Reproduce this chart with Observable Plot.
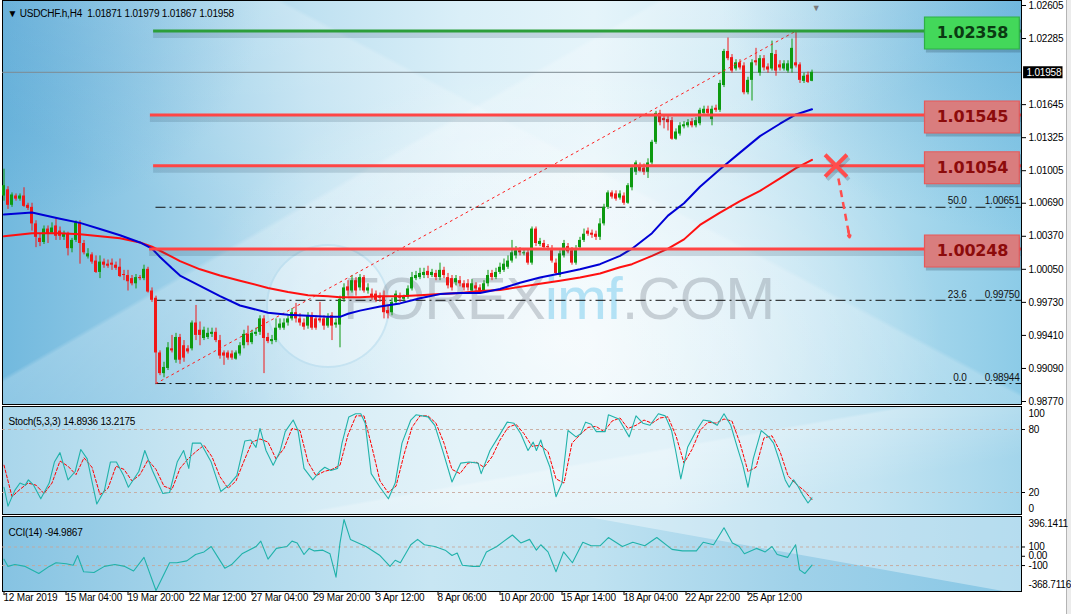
<!DOCTYPE html>
<html>
<head>
<meta charset="utf-8">
<script src="https://cdn.jsdelivr.net/npm/d3@7"></script>
<script src="https://cdn.jsdelivr.net/npm/@observablehq/plot@0.6"></script>
<style>
html, body { margin:0; padding:0; background:#ffffff; }
#chart { position:relative; width:1071px; height:614px; overflow:hidden; background:#ffffff; font-family:"Liberation Sans", Arial, sans-serif; }
.pane { position:absolute; left:2px; width:1018px; border:1px solid #000; }
#paneMain { top:0px; height:403px;
  background:
    linear-gradient(150deg, rgba(255,255,255,0) 38%, rgba(255,255,255,0.22) 38.5%, rgba(255,255,255,0) 62%),
    linear-gradient(28deg, rgba(255,255,255,0) 30%, rgba(255,255,255,0.20) 58%, rgba(255,255,255,0) 58.5%),
    radial-gradient(ellipse 300px 230px at 1018px 0px, rgba(60,150,205,0.40), rgba(60,150,205,0) 100%),
    radial-gradient(ellipse 260px 220px at 0px 0px, rgba(50,140,200,0.35), rgba(50,140,200,0) 100%),
    radial-gradient(ellipse 380px 280px at 560px 340px, rgba(255,255,255,0.65), rgba(255,255,255,0) 100%),
    linear-gradient(90deg, #72b9de 0%, #96cce7 15%, #bfe1f1 30%, #daeff8 45%, #e5f4fa 58%, #d0eaf5 72%, #aad9ed 88%, #8ccbe7 100%);
}
#paneStoch { top:406px; height:107px;
  background:
    linear-gradient(170deg, rgba(255,255,255,0) 55%, rgba(255,255,255,0.25) 56%, rgba(255,255,255,0) 80%),
    linear-gradient(90deg, #a9d6eb 0%, #cbe7f3 20%, #e4f3f9 45%, #e2f2f9 65%, #c3e4f2 85%, #a3d5eb 100%);
}
#paneCci { top:516px; height:74px;
  background: linear-gradient(90deg, #86c3e2 0%, #a9d6eb 20%, #c8e6f3 42%, #bfe2f1 58%, #9fd1e9 78%, #88c7e5 100%);
}
#cciLight { position:absolute; left:3px; top:517px; width:1018px; height:74px;
  background: rgba(255,255,255,0.38);
  clip-path: polygon(585px 0px, 1018px 0px, 1018px 74px, 1000px 74px); }
#logo { position:absolute; left:266px; top:244px; width:120px; height:120px; border-radius:50%;
  background: rgba(255,255,255,0.28); border:2px solid rgba(110,185,220,0.25); }
#wm { position:absolute; left:343px; top:269px; font-family:"Liberation Sans", Arial, sans-serif;
  font-size:60px; line-height:60px; letter-spacing:-1px; white-space:nowrap; }
#wm .g { color: rgba(120,130,140,0.34); }
#wm .b { color: rgba(125,205,238,0.55); }
#scrollR { position:absolute; left:1066px; top:0px; width:5px; height:614px; background:#ececec; border-left:1px solid #b4b4b4; }
#chart svg { position:absolute; left:0px; top:0px; }
</style>
</head>
<body>
<div id="chart">
  <div class="pane" id="paneMain"></div>
  <div class="pane" id="paneStoch"></div>
  <div class="pane" id="paneCci"></div>
  <div id="cciLight"></div>
  <div id="logo"></div>
  <div id="wm"><span class="g">FOREX</span><span class="b">imf</span><span class="g">.COM</span></div>
  <div id="scrollR"></div>
</div>
<script>
// ---------------- DATA ----------------
const symbolTitle = "▼ USDCHF.h,H4  1.01871 1.01979 1.01867 1.01958";
const stochTitle = "Stoch(5,3,3) 14.8936 13.2175";
const cciTitle = "CCI(14) -94.9867";

const open = [
1.0076,1.0082,1.0067,1.0076,1.0073,1.0076,1.0067,1.0065,1.0049,1.0035,
1.0031,1.0044,1.0040,1.0047,1.0042,1.0036,1.0039,1.0025,1.0033,1.0050,
1.0030,1.0017,1.0019,1.0013,1.0002,1.0012,1.0010,1.0011,1.0009,1.0007,
1.0000,0.9999,0.9996,0.9991,0.9997,0.9996,1.0005,0.9984,0.9977,0.9924,
0.9904,0.9909,0.9928,0.9917,0.9939,0.9931,0.9928,0.9928,0.9953,0.9946,
0.9938,0.9939,0.9942,0.9944,0.9936,0.9924,0.9924,0.9923,0.9918,0.9923,
0.9931,0.9942,0.9934,0.9942,0.9944,0.9957,0.9939,0.9935,0.9936,0.9948,
0.9948,0.9953,0.9957,0.9963,0.9957,0.9953,0.9950,0.9960,0.9957,0.9957,
0.9957,0.9950,0.9960,0.9951,0.9951,0.9976,0.9988,0.9984,0.9994,0.9987,
0.9997,0.9984,0.9981,0.9981,0.9979,0.9979,0.9965,0.9963,0.9973,0.9979,
0.9976,0.9978,0.9986,0.9996,0.9997,0.9999,1.0003,0.9999,1.0001,0.9997,
1.0004,0.9997,0.9996,0.9992,0.9994,0.9991,0.9991,0.9984,0.9989,0.9987,
0.9984,0.9991,1.0001,0.9997,1.0002,1.0004,1.0007,1.0013,1.0018,1.0023,
1.0021,1.0021,1.0011,1.0044,1.0029,1.0030,1.0027,1.0025,1.0011,0.9999,
1.0018,1.0027,1.0023,1.0011,1.0026,1.0033,1.0042,1.0040,1.0039,1.0036,
1.0049,1.0065,1.0079,1.0078,1.0074,1.0076,1.0069,1.0084,1.0099,1.0104,
1.0103,1.0099,1.0108,1.0128,1.0156,1.0151,1.0150,1.0149,1.0131,1.0136,
1.0143,1.0144,1.0148,1.0144,1.0146,1.0156,1.0160,1.0150,1.0161,1.0159,
1.0183,1.0216,1.0210,1.0199,1.0205,1.0202,1.0176,1.0188,1.0207,1.0195,
1.0209,1.0201,1.0199,1.0213,1.0203,1.0199,1.0197,1.0199,1.0205,1.0203,
1.0187,1.0193,1.01871];
const high = [
1.0102,1.0085,1.0079,1.0078,1.0078,1.0084,1.0069,1.0069,1.0052,1.0039,
1.0047,1.0047,1.0050,1.0054,1.0046,1.0042,1.0041,1.0035,1.0052,1.0052,
1.0033,1.0025,1.0021,1.0018,1.0018,1.0015,1.0014,1.0015,1.0012,1.0015,
1.0004,1.0004,0.9999,1.0000,0.9999,1.0009,1.0007,0.9987,0.9979,0.9926,
0.9915,0.9934,0.9941,0.9943,0.9942,0.9936,0.9931,0.9955,0.9970,0.9954,
0.9949,0.9948,0.9948,0.9948,0.9941,0.9926,0.9926,0.9926,0.9926,0.9934,
0.9946,0.9950,0.9946,0.9948,0.9960,0.9960,0.9943,0.9941,0.9957,0.9957,
0.9957,0.9960,0.9967,0.9972,0.9962,0.9957,0.9963,0.9963,0.9960,0.9973,
0.9960,0.9962,0.9963,0.9957,0.9979,0.9991,0.9994,0.9999,0.9997,1.0000,
0.9999,0.9991,0.9986,0.9984,0.9982,0.9984,0.9970,0.9977,0.9984,0.9982,
0.9980,0.9989,1.0002,1.0003,1.0006,1.0006,1.0008,1.0005,1.0004,1.0011,
1.0007,1.0001,0.9999,0.9999,0.9998,0.9994,0.9995,0.9995,0.9992,0.9990,
0.9994,1.0004,1.0004,1.0006,1.0011,1.0015,1.0018,1.0033,1.0027,1.0026,
1.0024,1.0025,1.0046,1.0046,1.0035,1.0033,1.0029,1.0028,1.0015,1.0023,
1.0033,1.0030,1.0026,1.0028,1.0036,1.0044,1.0045,1.0043,1.0042,1.0054,
1.0068,1.0081,1.0081,1.0081,1.0081,1.0079,1.0088,1.0105,1.0110,1.0108,
1.0107,1.0112,1.0130,1.0158,1.0159,1.0154,1.0153,1.0152,1.0141,1.0147,
1.0148,1.0150,1.0151,1.0152,1.0161,1.0163,1.0163,1.0163,1.0164,1.0188,
1.0218,1.0229,1.0213,1.0208,1.0208,1.0205,1.0191,1.0208,1.0219,1.0212,
1.0212,1.0204,1.0226,1.0217,1.0207,1.0207,1.0207,1.0228,1.02358,1.0205,
1.0195,1.0196,1.01979];
const low = [
1.0071,1.0063,1.0065,1.0071,1.0071,1.0065,1.0062,1.0042,1.0026,1.0027,
1.0029,1.0030,1.0039,1.0033,1.0033,1.0033,1.0018,1.0021,1.0031,1.0010,
1.0019,1.0015,1.0010,1.0001,0.9996,1.0006,1.0006,1.0004,1.0004,0.9997,
0.9994,0.9984,0.9989,0.9986,0.9994,0.9994,0.9982,0.9973,0.98944,0.9902,
0.9900,0.9907,0.9924,0.9914,0.9913,0.9915,0.9923,0.9926,0.9936,0.9931,
0.9936,0.9937,0.9939,0.9934,0.9918,0.9912,0.9917,0.9917,0.9917,0.9921,
0.9928,0.9931,0.9932,0.9940,0.9941,0.9904,0.9933,0.9932,0.9934,0.9946,
0.9946,0.9950,0.9955,0.9953,0.9950,0.9946,0.9947,0.9946,0.9946,0.9953,
0.9946,0.9948,0.9936,0.9948,0.9929,0.9973,0.9979,0.9982,0.9979,0.9984,
0.9982,0.9981,0.9975,0.9973,0.9973,0.9957,0.9957,0.9960,0.9970,0.9973,
0.9973,0.9976,0.9984,0.9994,0.9995,0.9996,0.9996,0.9997,0.9994,0.9994,
0.9996,0.9986,0.9984,0.9989,0.9988,0.9984,0.9984,0.9981,0.9982,0.9981,
0.9982,0.9988,0.9994,0.9995,1.0000,1.0002,1.0005,1.0011,1.0015,1.0018,
1.0018,1.0009,1.0009,1.0027,1.0027,1.0024,1.0023,1.0011,0.9999,0.9997,
1.0016,1.0020,1.0009,1.0009,1.0024,1.0031,1.0037,1.0035,1.0033,1.0033,
1.0047,1.0063,1.0073,1.0071,1.0072,1.0067,1.0068,1.0081,1.0096,1.0099,
1.0096,1.0093,1.0106,1.0126,1.0144,1.0141,1.0139,1.0130,1.0130,1.0134,
1.0141,1.0142,1.0142,1.0142,1.0144,1.0154,1.0154,1.0144,1.0157,1.0157,
1.0181,1.0207,1.0195,1.0197,1.0198,1.0174,1.0174,1.0168,1.0202,1.0192,
1.0197,1.0195,1.0197,1.0192,1.0197,1.0197,1.0195,1.0195,1.0200,1.0185,
1.0185,1.0185,1.01867];
const close = [
1.0086,1.0067,1.0077,1.0073,1.0076,1.0066,1.0064,1.0049,1.0036,1.0031,
1.0044,1.0039,1.0045,1.0037,1.0037,1.0039,1.0025,1.0033,1.0050,1.0030,
1.0021,1.0020,1.0012,1.0002,1.0012,1.0009,1.0008,1.0009,1.0006,0.9998,
0.9999,0.9993,0.9991,0.9997,0.9996,1.0005,0.9983,0.9975,0.9924,0.9904,
0.9910,0.9929,0.9926,0.9939,0.9917,0.9919,0.9925,0.9953,0.9941,0.9941,
0.9946,0.9943,0.9944,0.9936,0.9921,0.9921,0.9919,0.9919,0.9924,0.9931,
0.9942,0.9934,0.9943,0.9944,0.9957,0.9938,0.9935,0.9937,0.9948,0.9952,
0.9953,0.9957,0.9963,0.9957,0.9953,0.9949,0.9960,0.9948,0.9948,0.9955,
0.9950,0.9958,0.9950,0.9953,0.9976,0.9987,0.9984,0.9994,0.9984,0.9997,
0.9984,0.9987,0.9978,0.9975,0.9977,0.9963,0.9962,0.9973,0.9981,0.9977,
0.9978,0.9986,0.9997,0.9999,1.0001,1.0002,0.9999,1.0002,0.9997,1.0004,
0.9999,0.9989,0.9987,0.9996,0.9991,0.9987,0.9987,0.9991,0.9986,0.9984,
0.9991,0.9999,0.9997,1.0002,1.0007,1.0010,1.0013,1.0021,1.0023,1.0021,
1.0021,1.0011,1.0044,1.0030,1.0032,1.0026,1.0026,1.0013,1.0001,1.0020,
1.0030,1.0022,1.0011,1.0025,1.0033,1.0039,1.0039,1.0038,1.0036,1.0049,
1.0065,1.0079,1.0075,1.0073,1.0078,1.0069,1.0086,1.0103,1.0108,1.0100,
1.0099,1.0108,1.0128,1.0156,1.0147,1.0149,1.0147,1.0131,1.0138,1.0144,
1.0145,1.0147,1.0144,1.0149,1.0159,1.0160,1.0156,1.0160,1.0159,1.0185,
1.0216,1.0209,1.0197,1.0205,1.0200,1.0176,1.0188,1.0205,1.0205,1.0209,
1.0200,1.0198,1.0214,1.0197,1.0200,1.0204,1.0204,1.0219,1.0202,1.0188,
1.0192,1.0186,1.01958];

// moving averages, read at these bar indices
const maBars = [0,7,14,19,24,29,34,37,39,42,44,49,54,59,66,71,76,81,84,86,89,94,99,104,109,114,119,124,129,134,139,144,149,154,157,162,166,170,174,179,184,189,194,198,202];
const maFast = [1.0058,1.0060,1.0054,1.0050,1.0044,1.0038,1.0031,1.0025,1.0017,1.0006,
0.9999,0.9989,0.9979,0.9970,0.9963,0.9961,0.9960,0.9959,0.9959,0.9962,
0.9965,0.9969,0.9972,0.9977,0.9981,0.9982,0.9982,0.9986,0.9992,0.9997,
1.0001,1.0005,1.0010,1.0018,1.0025,1.0040,1.0057,1.0069,1.0085,1.0102,
1.0118,1.0134,1.0146,1.0155,1.0160];
const maSlow = [1.0037,1.0040,1.0040,1.0039,1.0037,1.0035,1.0031,1.0027,1.0023,1.0017,
1.0013,1.0005,0.9999,0.9994,0.9987,0.9983,0.9980,0.9979,0.9978,0.9978,
0.9978,0.9979,0.9979,0.9980,0.9981,0.9982,0.9984,0.9985,0.9988,0.9991,
0.9994,0.9997,1.0001,1.0007,1.0010,1.0018,1.0025,1.0034,1.0048,1.0060,
1.0071,1.0081,1.0093,1.0103,1.0111];

// price axis ticks and levels
const priceTicks = [1.02605,1.02285,1.01645,1.01325,1.01005,1.00690,1.00370,1.00050,0.99730,0.99410,0.99090,0.98770];
const currentPrice = 1.01958;
const levelPrices = [1.02358, 1.01545, 1.01054, 1.00248];
const levelKinds = ["resistance", "support", "support", "support"];
const levelStartBars = [37.4, 36.6, 37.4, 36.4];
const fibRatios = ["50.0", "23.6", "0.0"];
const fibPrices = [1.00651, 0.99750, 0.98944];
const fibAnchors = [{bar: 38, price: 0.98944}, {bar: 198, price: 1.02358}];
const signalMark = [{bar: 208, price: 1.01054}];
const signalArrow = [{bar1: 208.6, price1: 1.0093, bar2: 211.4, price2: 1.0036}];

// Stochastic (5,3,3): [bar, value]
const stochMain = [[0,25],[1,7],[2.7,22],[4,29],[5.3,27],[6.1,32],[7.4,27],[9.2,14],[11.3,29],[12.6,49],
[14,58],[16,32],[17.8,40],[19.2,61],[20.8,52],[23.2,9],[25.1,22],[26.6,49],[28.1,49],[29.8,37],
[31.1,25],[33.7,40],[35.2,60],[37.1,41],[39.7,19],[41.4,20],[43.3,49],[44.9,60],[46.2,43],[47.1,67],
[49.2,67],[51.8,49],[54.2,21],[56.2,27],[58.2,36],[60.2,69],[61.7,70],[63,63],[64,81],[65.5,60],
[67.3,46],[69,59],[70.3,78],[72.3,89],[73.5,79],[75,43],[77.2,32],[78.9,40],[80.2,44],[81.7,41],
[83.4,43],[84.5,67],[86.2,92],[87.9,95],[89.2,95],[90.3,86],[91.8,38],[94,25],[96.1,14],[97.8,29],
[99.5,67],[101.7,89],[103,94],[106,92],[107.7,84],[109.9,57],[112,30],[114.2,48],[116.3,49],[118.5,48],
[119.3,38],[121.5,60],[123.6,73],[125.8,87],[127.5,86],[129.2,76],[131,60],[132.3,68],[133.1,60],[134.2,70],
[135.2,57],[136.5,44],[138,16],[139.5,29],[141,79],[143,73],[144.2,76],[145.4,87],[146.8,85],[148.1,78],
[150.3,78],[151.1,94],[153.7,90],[156.3,73],[158,93],[159.7,86],[161.5,84],[163.6,95],[165.3,93],[166.9,79],
[167.9,60],[169.2,33],[170.9,63],[173.1,79],[174.8,89],[176.5,88],[178.3,84],[180,95],[181.7,84],[183.4,62],
[184.7,46],[186,25],[187.3,52],[189.3,79],[191.2,73],[192.4,67],[193.7,52],[195.3,32],[196.3,25],[197.4,32],
[198.5,26],[199.8,17],[201,10],[202,14.8936]];
const stochSignal = [[0,46],[2,16],[4,23],[6,29],[8,27],[10,19],[12,29],[14,50],[16,45],[18,37],[20,53],
[22,44],[24,18],[26,24],[28,45],[30,42],[32,31],[34,37],[36,51],[38,42],[40,26],[42,23],[44,43],[46,52],
[48,59],[50,65],[52,54],[54,35],[56,24],[58,31],[60,50],[62,68],[64,71],[66,68],[68,52],[70,62],[72,81],
[74,79],[76,49],[78,36],[80,40],[82,42],[84,46],[86,75],[88,93],[90,93],[92,63],[94,31],[96,20],[98,26],
[100,56],[102,82],[104,93],[106,93],[108,86],[110,67],[112,42],[114,38],[116,48],[118,49],[120,44],[122,54],
[124,70],[126,82],[128,85],[130,76],[132,64],[134,65],[136,59],[138,33],[140,29],[142,67],[144,75],[146,82],
[148,83],[150,78],[152,88],[154,91],[156,81],[158,84],[160,89],[162,86],[164,91],[166,92],[168,74],[170,48],
[172,61],[174,79],[176,87],[178,86],[180,90],[182,88],[184,67],[186,40],[188,44],[190,72],[192,74],[194,59],
[196,36],[198,28],[200,22],[202,13.2175]];
const stochLevels = [20, 80];

// CCI(14): [bar, value]
const cciSeries = [[0,-31],[1,-109],[2.7,-89],[5.3,-109],[8.7,-186],[11.3,-109],[13,-70],[15.6,-81],[17.3,-97],[18.4,8],
[19.9,-167],[22.5,-175],[25.1,-109],[27.7,-89],[30.2,-109],[32.4,-159],[35,-12],[38,-368.7116],[41.4,-70],[43.2,-70],
[45.7,-50],[47.9,19],[50,47],[51.8,105],[53.5,-12],[55.2,-128],[56.9,-89],[59.5,27],[63,105],[64.2,163],
[66,-31],[68.1,85],[70.7,105],[72,163],[73.3,144],[75,19],[76.3,85],[77.6,58],[79.7,66],[81.5,27],
[83,-225],[84,144],[85,396.1411],[86.6,182],[90.5,105],[94,8],[96.5,-109],[97.8,-43],[99.1,-70],[101.7,124],
[103.4,182],[105.1,124],[107.7,105],[110.3,66],[112,8],[113.3,35],[114.6,-97],[117.2,-109],[118.9,-109],[120.6,47],
[123.2,105],[125,163],[127.1,229],[129.2,144],[131.4,182],[133.1,66],[134.2,124],[136,47],[138,-167],[139.9,47],
[142.1,-70],[144.7,151],[146.8,113],[149,113],[151.1,202],[154.6,105],[157.2,151],[160.2,113],[163.2,202],[167,74],
[169.6,58],[173.1,58],[174.8,151],[177.4,124],[180,307],[182.1,144],[183.8,105],[185.1,27],[188.1,85],[190.3,47],
[192,105],[193.3,19],[195.9,-12],[197.9,124],[198.9,-147],[200.2,-186],[202,-94.9867]];
const cciLevels = [100, -100];
const cciTicks = [100, 0, -100];

// time axis (label positions in bar units)
const timeLabels = ["12 Mar 2019","15 Mar 04:00","19 Mar 20:00","22 Mar 12:00","27 Mar 04:00","29 Mar 20:00","3 Apr 12:00","8 Apr 06:00","10 Apr 20:00","15 Apr 14:00","18 Apr 04:00","22 Apr 22:00","25 Apr 12:00"];
const timeLabelBars = [0,15.5,31,46.5,62,77.5,93,108.5,124,139.5,155,170.5,186];

// ---------------- RENDER ----------------
const W = 1071, H = 614;
const xScale = {domain: [0, 254], range: [3.5, 1019.5], axis: null};
const xEnd = 254.375;
const baseStyle = {position: "absolute", left: "0px", top: "0px", background: "transparent", overflow: "visible",
  fontFamily: "'Liberation Sans', Arial, sans-serif", fontSize: "10px", color: "#000", letterSpacing: "-0.2px"};

const bull = "#0d9a10", bear = "#f01818";
const candles = open.map((o, i) => ({i, o, h: high[i], l: low[i], c: close[i]}));
const cColor = d => d.c >= d.o ? bull : bear;
const ma = maBars.map((b, k) => ({b, fast: maFast[k], slow: maSlow[k]}));
const levels = levelPrices.map((p, k) => ({p, kind: levelKinds[k], start: levelStartBars[k]}));
const lvlColor = d => d.kind === "resistance" ? "#2c9e3a" : "#ff4545";
const boxFill = d => d.kind === "resistance" ? "#43d85a" : "#d97d7e";
const boxEdge = d => d.kind === "resistance" ? "#2fb046" : "#e85858";
const boxText = d => d.kind === "resistance" ? "#0b3a12" : "#8c0b0b";
const fibs = fibPrices.map((p, k) => ({p, r: fibRatios[k]}));
const boxX1 = 230.1, boxX2 = 254.1, boxXc = 242.1;

const main = Plot.plot({
  width: W, height: H, marginLeft: 2, marginRight: 50, marginTop: 1, marginBottom: 210,
  style: baseStyle,
  x: xScale,
  y: {domain: [0.98770, 1.02605], range: [401, 5], axis: "right", ticks: priceTicks,
      tickFormat: d => d.toFixed(5), tickSize: 4, tickPadding: 3, label: null},
  marks: [
    Plot.ruleY([currentPrice], {stroke: "#7d8a92", strokeWidth: 1}),
    Plot.ruleY(fibs, {y: "p", x1: fibAnchors[0].bar, x2: xEnd, stroke: "#111", strokeWidth: 1, strokeDasharray: "10,4,2,4"}),
    Plot.text(fibs, {y: "p", text: "r", frameAnchor: "right", dx: -55, dy: -6, textAnchor: "end", fill: "#111"}),
    Plot.text(fibs, {y: "p", text: d => d.p.toFixed(5), frameAnchor: "right", dx: -2, dy: -6, textAnchor: "end", fill: "#111"}),
    // candles
    Plot.ruleX(candles, {x: "i", y1: "l", y2: "h", stroke: cColor, strokeWidth: 1}),
    Plot.rect(candles, {x1: d => d.i - 0.375, x2: d => d.i + 0.375, y1: "o", y2: "c", fill: cColor}),
    Plot.ruleY(candles.filter(d => Math.abs(d.c - d.o) < 0.00006), {y: "c", x1: d => d.i - 0.375, x2: d => d.i + 0.375, stroke: cColor}),
    // fib diagonal
    Plot.line(fibAnchors, {x: "bar", y: "price", stroke: "#ff1e1e", strokeWidth: 1, strokeDasharray: "2,4"}),
    // moving averages
    Plot.line(ma, {x: "b", y: "slow", stroke: "#ff1010", strokeWidth: 2}),
    Plot.line(ma, {x: "b", y: "fast", stroke: "#0000d6", strokeWidth: 2}),
    // horizontal levels with soft shadow
    Plot.ruleY(levels, {y: "p", x1: "start", x2: xEnd, stroke: "#2d4e66", strokeOpacity: 0.18, strokeWidth: 6, dy: 4}),
    Plot.ruleY(levels, {y: "p", x1: "start", x2: xEnd, stroke: lvlColor, strokeWidth: 3}),
    // level label boxes
    Plot.ruleY(levels, {y: "p", x1: boxX1, x2: boxX2, stroke: "#1e3c50", strokeOpacity: 0.25, strokeWidth: 33, dx: 2, dy: 5}),
    Plot.ruleY(levels, {y: "p", x1: boxX1, x2: boxX2, stroke: boxEdge, strokeWidth: 33, dy: 2}),
    Plot.ruleY(levels, {y: "p", x1: boxX1 + 0.3, x2: boxX2 - 0.3, stroke: boxFill, strokeWidth: 31, dy: 2}),
    Plot.text(levels, {y: "p", x: () => boxXc, text: d => d.p.toFixed(5), fill: boxText, fontSize: 16, fontWeight: "bold",
      fontFamily: "'DejaVu Sans', Verdana, sans-serif", dy: 2}),
    // signal: X mark and dashed arrow
    Plot.dot(signalMark, {x: "bar", y: "price", symbol: "times", r: 10, stroke: "#2d4e66", strokeOpacity: 0.25, strokeWidth: 4, dx: 2, dy: 3}),
    Plot.dot(signalMark, {x: "bar", y: "price", symbol: "times", r: 10, stroke: "#ff4d4d", strokeWidth: 4}),
    Plot.link(signalArrow, {x1: "bar1", y1: "price1", x2: "bar2", y2: "price2", stroke: "#ff4d4d", strokeWidth: 2.5, strokeDasharray: "7,5"}),
    Plot.arrow(signalArrow, {x1: d => d.bar2 - 0.3, y1: d => d.price2 + 0.0006, x2: "bar2", y2: "price2", stroke: "#ff4d4d", strokeWidth: 2.5, headLength: 9}),
    // titles and price label
    Plot.text([symbolTitle], {text: d => d, frameAnchor: "top-left", dx: 5, dy: 8, textAnchor: "start", fill: "#000"}),
    Plot.text([open.length], {x: d => d, text: () => "▼", frameAnchor: "top", dy: 3, fill: "#7a7a7a", fontSize: 9}),
    Plot.ruleY([currentPrice], {x1: 254.9, x2: 264.75, stroke: "#000", strokeWidth: 12}),
    Plot.text([currentPrice], {y: d => d, text: d => d.toFixed(5), frameAnchor: "right", dx: 5, textAnchor: "start", fill: "#fff"})
  ]
});

const stoch = Plot.plot({
  width: W, height: H, marginLeft: 2, marginRight: 50, marginTop: 407, marginBottom: 100,
  style: baseStyle,
  x: xScale,
  y: {domain: [0, 100], range: [513, 408], axis: "right", ticks: stochLevels, tickSize: 3, tickPadding: 4, label: null},
  marks: [
    Plot.ruleY(stochLevels, {stroke: "#c7a498", strokeOpacity: 0.85, strokeDasharray: "3,3"}),
    Plot.line(stochSignal, {x: d => d[0], y: d => d[1], stroke: "#ff0000", strokeWidth: 1, strokeDasharray: "3,2"}),
    Plot.line(stochMain, {x: d => d[0], y: d => d[1], stroke: "#20b2aa", strokeWidth: 1.1}),
    Plot.text([100], {y: d => d, text: d => String(d), frameAnchor: "right", dx: 7, dy: 5, textAnchor: "start"}),
    Plot.text([0], {y: d => d, text: d => String(d), frameAnchor: "right", dx: 7, dy: -5, textAnchor: "start"}),
    Plot.text([stochTitle], {text: d => d, frameAnchor: "top-left", dx: 6, dy: 10, textAnchor: "start"})
  ]
});

const cciExt = d3.extent(cciSeries, d => d[1]);
const cci = Plot.plot({
  width: W, height: H, marginLeft: 2, marginRight: 50, marginTop: 517, marginBottom: 23,
  style: baseStyle,
  x: xScale,
  y: {domain: cciExt, range: [590, 519], axis: "right", ticks: cciTicks,
      tickFormat: d => d === 0 ? "0.00" : String(d), tickSize: 3, tickPadding: 4, label: null},
  marks: [
    Plot.ruleY(cciLevels, {stroke: "#c7a498", strokeOpacity: 0.85, strokeDasharray: "3,3"}),
    Plot.line(cciSeries, {x: d => d[0], y: d => d[1], stroke: "#20b2aa", strokeWidth: 1.1}),
    Plot.text([cciExt[1]], {y: d => d, text: d => d.toFixed(4), frameAnchor: "right", dx: 7, dy: 4, textAnchor: "start"}),
    Plot.text([cciExt[0]], {y: d => d, text: d => d.toFixed(4), frameAnchor: "right", dx: 7, dy: -6, textAnchor: "start"}),
    Plot.text([cciTitle], {text: d => d, frameAnchor: "top-left", dx: 6, dy: 11, textAnchor: "start"}),
    Plot.ruleX(timeLabelBars, {x: d => d, insetTop: 74, insetBottom: -4, stroke: "#000"}),
    Plot.text(timeLabels, {x: (d, i) => timeLabelBars[i], text: d => d, frameAnchor: "bottom", dy: 9, dx: -0.5, textAnchor: "start"})
  ]
});

const root = document.getElementById("chart");
root.appendChild(main);
root.appendChild(stoch);
root.appendChild(cci);
</script>
</body>
</html>
